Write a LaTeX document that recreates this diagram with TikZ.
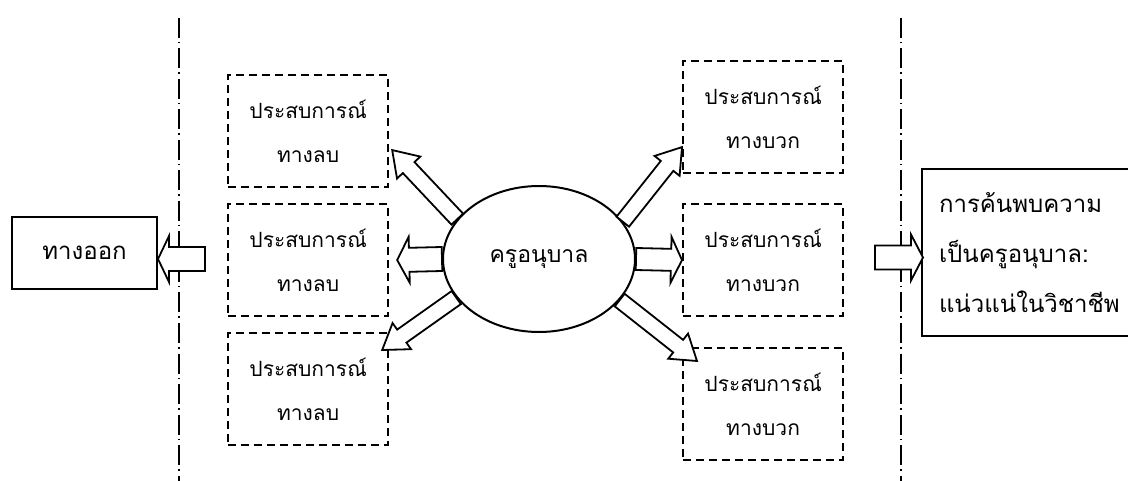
\documentclass[tikz,border=0pt]{standalone}
\usepackage{fontspec}
\newfontfamily\thaifont[Script=Thai]{Loma}
\usetikzlibrary{calc,shapes.geometric}
\tikzset{
  thai/.style={font=\thaifont\fontsize{21}{44}\selectfont},
  dbox/.style={draw, line width=2.2pt, dash pattern=on 8pt off 5pt, minimum width=160pt, minimum height=112pt, inner sep=0pt, thai, align=center, anchor=north west},
  sbox/.style={draw, line width=2pt, inner sep=0pt, anchor=north west},
  sepline/.style={line width=1.6pt, dash pattern=on 20pt off 4pt on 1.5pt off 5pt},
  barrowst/.style={draw, fill=white, line width=1.8pt, line join=miter},
}
\newcommand{\blockarrow}[5]{%
  \coordinate (tmpH) at ($(#2)!#5!(#1)$);
  \draw[barrowst] ($(#1)!#3!90:(#2)$) -- ($(tmpH)!#3!90:(#2)$) -- ($(tmpH)!#4!90:(#2)$) -- (#2)
     -- ($(tmpH)!#4!-90:(#2)$) -- ($(tmpH)!#3!-90:(#2)$) -- ($(#1)!#3!-90:(#2)$) -- cycle;
}
\begin{document}
\begin{tikzpicture}[x=1pt,y=-1pt]
\useasboundingbox (0,0) rectangle (1128,481);
\clip (0,0) rectangle (1128,481);
% separators
\coordinate (sepLt) at (179,18);
\coordinate (sepLb) at (179,481);
\coordinate (sepRt) at (901,18);
\coordinate (sepRb) at (901,481);
\draw[sepline] (sepLt) -- (sepLb);
\draw[sepline] (sepRt) -- (sepRb);
% negative experience boxes
\node[dbox] (n1) at (227,74) {ประสบการณ์\\ทางลบ};
\node[dbox] (n2) at (227,203) {ประสบการณ์\\ทางลบ};
\node[dbox] (n3) at (227,332) {ประสบการณ์\\ทางลบ};
% positive experience boxes
\node[dbox] (p1) at (682,60) {ประสบการณ์\\ทางบวก};
\node[dbox] (p2) at (682,203) {ประสบการณ์\\ทางบวก};
\node[dbox] (p3) at (682,347) {ประสบการณ์\\ทางบวก};
% exit box
\node[sbox, minimum width=145pt, minimum height=72pt, font=\thaifont\fontsize{24}{30}\selectfont] (exit) at (11,216) {ทางออก};
% discovery box
\node[sbox, minimum height=167pt, text width=200pt, inner xsep=17pt, align=left, font=\thaifont\fontsize{24}{50}\selectfont] (disc) at (921,168) {การค้นพบความ\\เป็นครูอนุบาล:\\แน่วแน่ในวิชาชีพ};
% central ellipse
\node[ellipse, draw, line width=2pt, fill=white, minimum width=192pt, minimum height=146pt, inner sep=0pt, font=\thaifont\fontsize{23}{30}\selectfont] (e) at (539,259) {ครูอนุบาล};
% arrow end points
\coordinate (tUL) at ($(n1.east)+(3,19)$);
\coordinate (tUR) at ($(p1.west)+(0,30)$);
\coordinate (tLL) at ($(n3.north east)+(-7,18)$);
\coordinate (tLR) at ($(p3.north west)+(15,14)$);
\coordinate (tL) at ($(n2.east)+(8,0)$);
\coordinate (tExit) at ($(exit.east)+(0,6)$);
\coordinate (sExit) at ($(exit.east)+(47,6)$);
\coordinate (tDisc) at ($(disc.west)+(2,5)$);
\coordinate (sDisc) at ($(disc.west)+(-46,5)$);
% arrows
\blockarrow{e.154}{tUL}{8pt}{16pt}{24pt}
\blockarrow{e.24}{tUR}{8pt}{16pt}{24pt}
\blockarrow{e.205}{tLL}{8pt}{16pt}{24pt}
\blockarrow{e.333}{tLR}{8pt}{16pt}{24pt}
\blockarrow{e.west}{tL}{12pt}{23pt}{12pt}
\blockarrow{e.east}{p2.west}{11pt}{23pt}{11pt}
\blockarrow{sExit}{tExit}{12pt}{23pt}{11pt}
\blockarrow{sDisc}{tDisc}{12pt}{23pt}{12pt}
\end{tikzpicture}
\end{document}
